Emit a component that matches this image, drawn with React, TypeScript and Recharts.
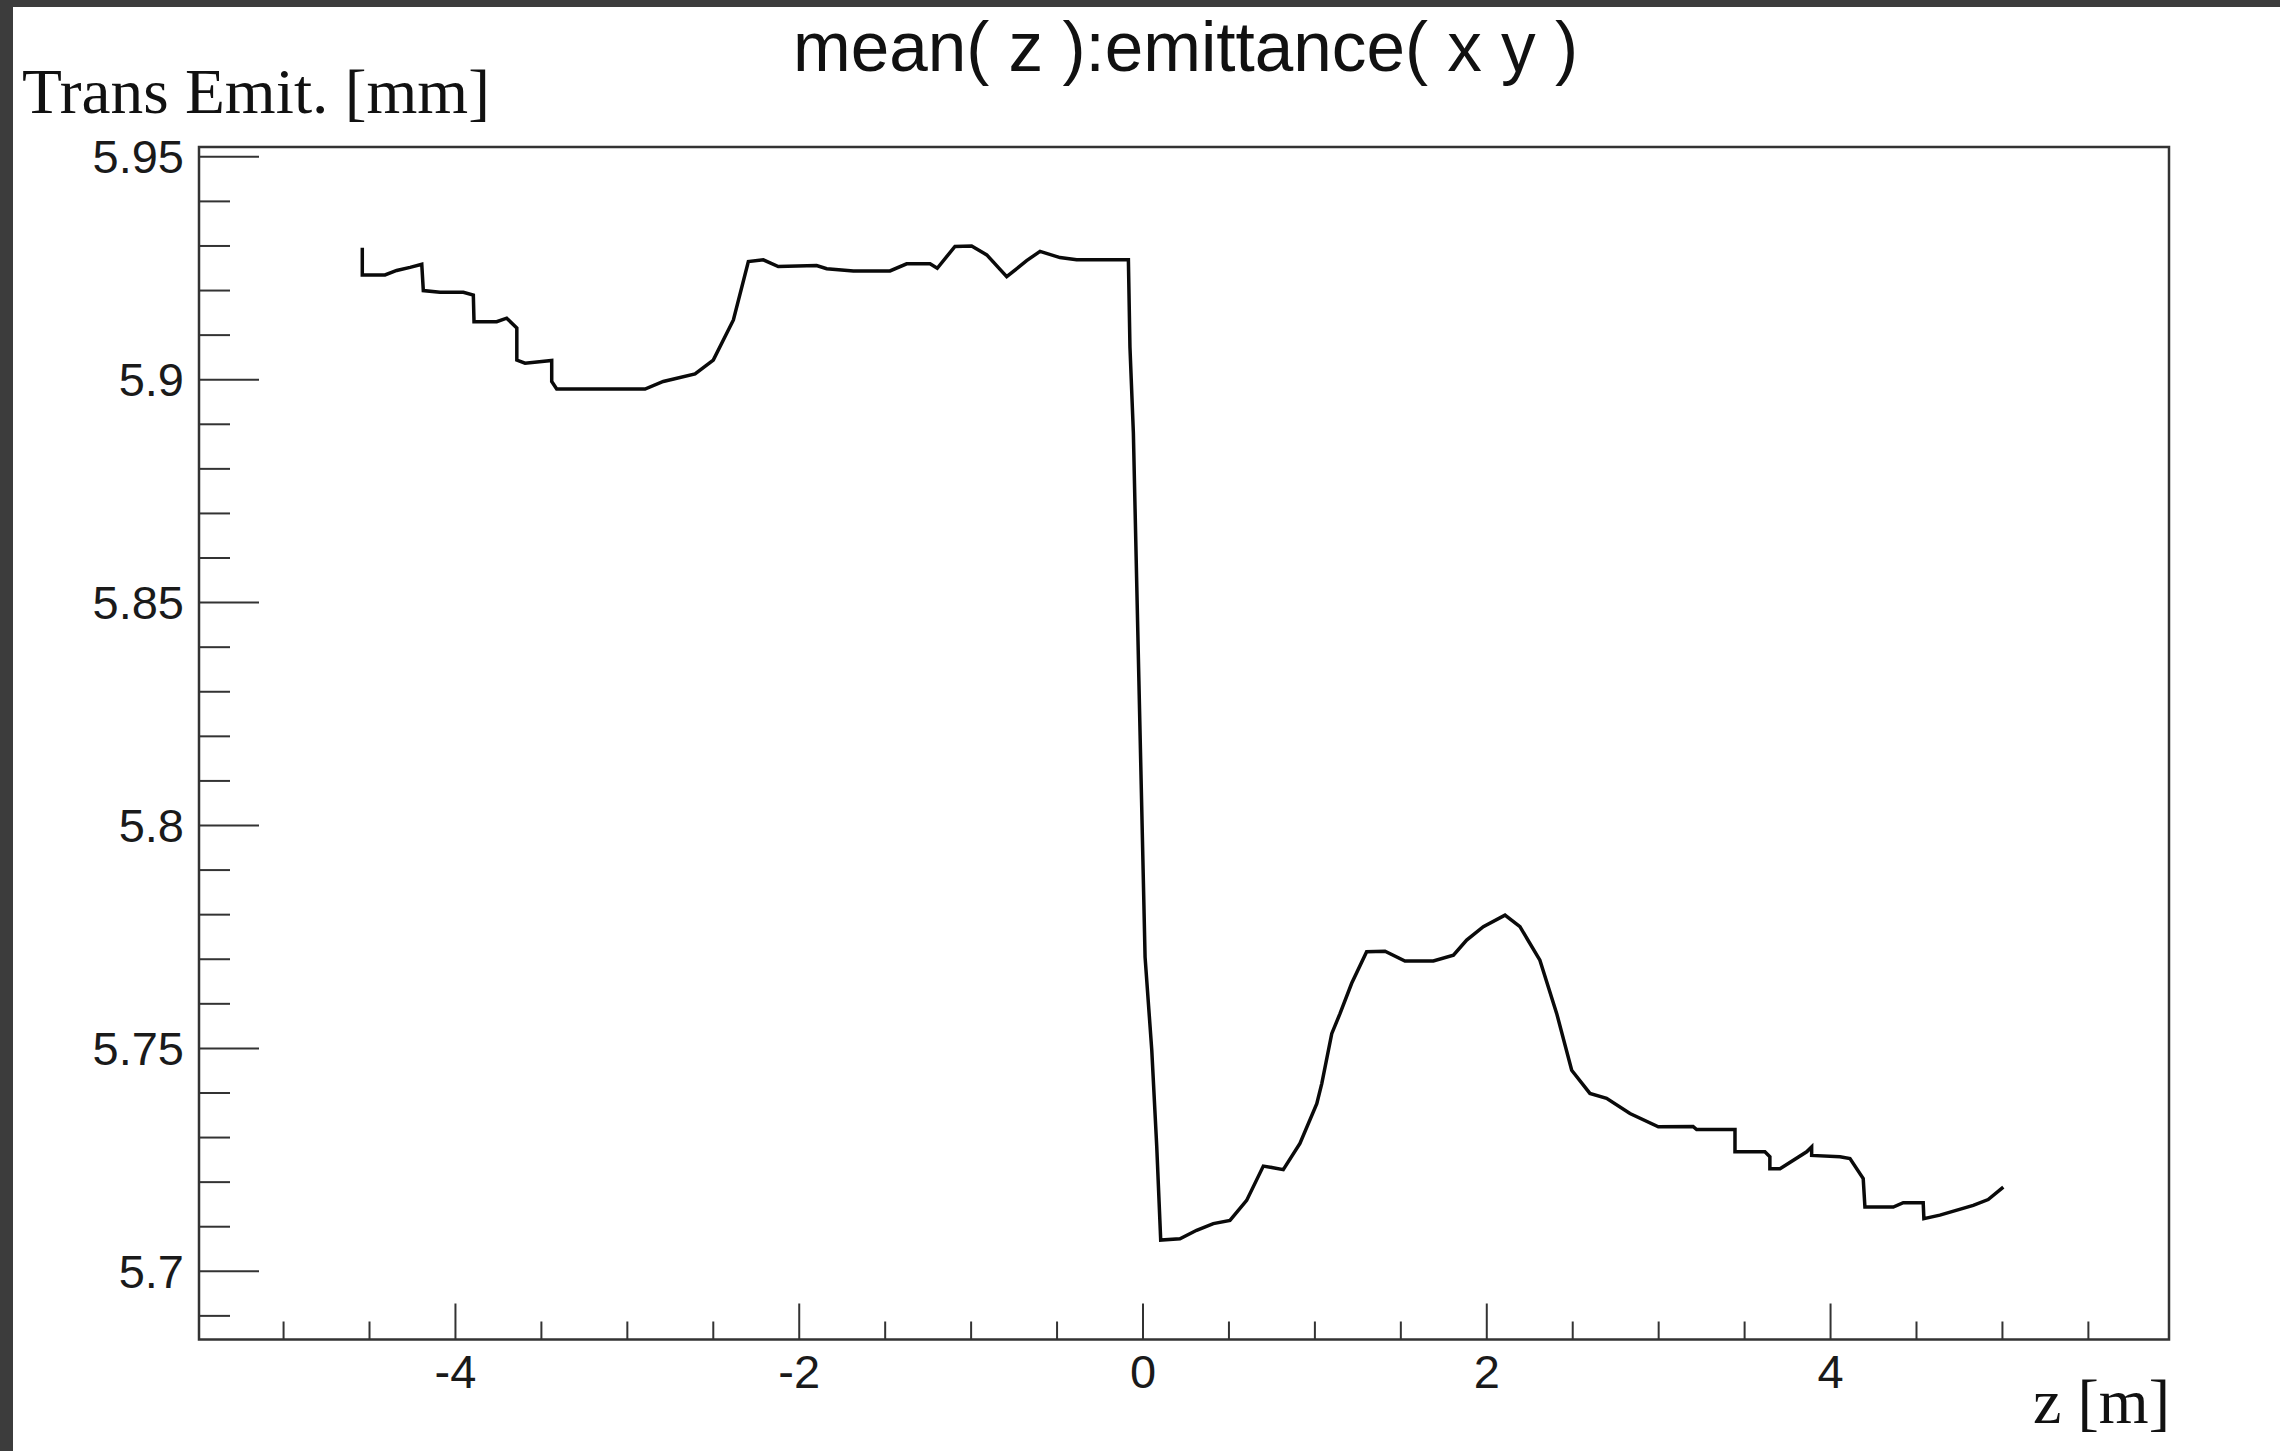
import React from 'react';
import { LineChart, Line, XAxis, YAxis, ReferenceArea } from 'recharts';

// mean(z) vs transverse emittance
const zValues = [
  -4.542, -4.542, -4.41, -4.342, -4.264, -4.196, -4.187, -4.09, -3.954, -3.896,
  -3.892, -3.76, -3.702, -3.643, -3.643, -3.595, -3.44, -3.44, -3.411, -2.897,
  -2.791, -2.606, -2.5, -2.383, -2.296, -2.209, -2.122, -1.899, -1.84, -1.685,
  -1.472, -1.375, -1.239, -1.197, -1.094, -0.997, -0.909, -0.793, -0.677, -0.599,
  -0.483, -0.386, -0.085, -0.076, -0.056, 0.002, 0.012, 0.051, 0.08, 0.103,
  0.215, 0.312, 0.409, 0.506, 0.603, 0.7, 0.749, 0.816, 0.913, 1.011,
  1.04, 1.098, 1.146, 1.214, 1.301, 1.408, 1.524, 1.689, 1.806, 1.883,
  1.98, 2.106, 2.193, 2.309, 2.407, 2.494, 2.6, 2.697, 2.833, 2.998,
  3.2, 3.221, 3.444, 3.444, 3.618, 3.647, 3.647, 3.706, 3.861, 3.89,
  3.89, 4.055, 4.113, 4.19, 4.2, 4.365, 4.423, 4.539, 4.543, 4.636,
  4.83, 4.917, 5.005,
];

const emitValues = [
  5.9296, 5.9235, 5.9235, 5.9245, 5.9252, 5.9259, 5.92, 5.9196, 5.9196, 5.919,
  5.913, 5.913, 5.9138, 5.9116, 5.9044, 5.9037, 5.9043, 5.8996, 5.8979, 5.8979,
  5.8996, 5.9013, 5.9044, 5.9134, 5.9265, 5.9269, 5.9254, 5.9256, 5.9249, 5.9244,
  5.9244, 5.926, 5.926, 5.925, 5.9299, 5.93, 5.928, 5.9231, 5.9267, 5.9288,
  5.9274, 5.9269, 5.9269, 5.9074, 5.888, 5.7877, 5.7705, 5.7496, 5.7279, 5.707,
  5.7073, 5.7092, 5.7107, 5.7114, 5.7159, 5.7236, 5.7233, 5.7228, 5.7287, 5.7376,
  5.7421, 5.7533, 5.7578, 5.7646, 5.7717, 5.7718, 5.7696, 5.7696, 5.7709, 5.7743,
  5.7773, 5.7799, 5.7773, 5.7698, 5.7578, 5.7451, 5.7399, 5.7388, 5.7354, 5.7324,
  5.7325, 5.7318, 5.7318, 5.7268, 5.7268, 5.7257, 5.723, 5.723, 5.7268, 5.7279,
  5.726, 5.7257, 5.7253, 5.7208, 5.7144, 5.7144, 5.7154, 5.7154, 5.7118, 5.7126,
  5.7148, 5.7161, 5.7189,
];

const xTicks = [
  -5, -4.5, -4, -3.5, -3, -2.5, -2, -1.5, -1, -0.5, 0, 0.5, 1, 1.5, 2, 2.5, 3, 3.5, 4, 4.5, 5, 5.5,
];
const xMajorTicks = [-4, -2, 0, 2, 4];

const yTicks = [
  5.69, 5.7, 5.71, 5.72, 5.73, 5.74, 5.75, 5.76, 5.77, 5.78, 5.79, 5.8, 5.81, 5.82,
  5.83, 5.84, 5.85, 5.86, 5.87, 5.88, 5.89, 5.9, 5.91, 5.92, 5.93, 5.94, 5.95,
];
const yMajorTicks = [5.7, 5.75, 5.8, 5.85, 5.9, 5.95];

const X_DOMAIN: [number, number] = [-5.492, 5.969];
const Y_DOMAIN: [number, number] = [5.6847, 5.9522];

const data = zValues.map((z, i) => ({ z, e: emitValues[i] }));

const W = 2280;
const H = 1451;
const Y_AXIS_W = 100;
const X_AXIS_H = 60;
const Y_TICK_GAP = 15;
const SANS = '"Liberation Sans", Arial, Helvetica, sans-serif';
const SERIF = '"Liberation Serif", "Times New Roman", serif';
const INK = '#1a1a1a';

const isIn = (list: number[], v: number) => list.some((m) => Math.abs(m - v) < 1e-6);

const YTick = (props: any) => {
  const { x, y, payload } = props;
  const v = payload.value;
  const major = isIn(yMajorTicks, v);
  const x0 = x + Y_TICK_GAP;
  return (
    <g>
      <line x1={x0} x2={x0 + (major ? 60 : 31)} y1={y} y2={y} stroke="#333" strokeWidth={2} />
      {major && (
        <text x={x} y={y} textAnchor="end" dominantBaseline="central" fontFamily={SANS} fontSize={47} fill={INK}>
          {String(Number(v.toFixed(2)))}
        </text>
      )}
    </g>
  );
};

const XTick = (props: any) => {
  const { x, y, payload } = props;
  const v = payload.value;
  const major = isIn(xMajorTicks, v);
  return (
    <g>
      <line x1={x} x2={x} y1={y} y2={y - (major ? 36 : 18)} stroke="#333" strokeWidth={2} />
      {major && (
        <text x={x} y={y + 32} textAnchor="middle" dominantBaseline="central" fontFamily={SANS} fontSize={47} fill={INK}>
          {String(v)}
        </text>
      )}
    </g>
  );
};

export default function App() {
  return (
    <div style={{ position: 'absolute', left: 0, top: 0, width: W, height: H, background: '#3c3c3c', overflow: 'hidden' }}>
      <div style={{ position: 'absolute', left: 13, top: 7, right: 0, bottom: 0, background: '#fff' }} />
      <div style={{ position: 'absolute', left: 0, top: 0 }}>
        <LineChart
          width={W}
          height={H}
          data={data}
          margin={{ top: 147, right: 111, bottom: 111.5 - X_AXIS_H, left: 199 - Y_AXIS_W }}
        >
          <XAxis
            dataKey="z"
            type="number"
            domain={X_DOMAIN}
            allowDataOverflow
            ticks={xTicks}
            interval={0}
            height={X_AXIS_H}
            tickSize={0}
            tickMargin={0}
            tickLine={false}
            axisLine={false}
            tick={<XTick />}
          />
          <YAxis
            type="number"
            domain={Y_DOMAIN}
            allowDataOverflow
            ticks={yTicks}
            interval={0}
            width={Y_AXIS_W}
            tickSize={0}
            tickMargin={Y_TICK_GAP}
            tickLine={false}
            axisLine={false}
            tick={<YTick />}
          />
          <ReferenceArea
            x1={X_DOMAIN[0]}
            x2={X_DOMAIN[1]}
            y1={Y_DOMAIN[0]}
            y2={Y_DOMAIN[1]}
            fill="none"
            fillOpacity={0}
            stroke="#333"
            strokeWidth={2.5}
            ifOverflow="visible"
          />
          <Line
            type="linear"
            dataKey="e"
            stroke="#0a0a0a"
            strokeWidth={3.5}
            dot={false}
            activeDot={false}
            isAnimationActive={false}
          />
        </LineChart>
      </div>
      <svg width={W} height={H} style={{ position: 'absolute', left: 0, top: 0, pointerEvents: 'none' }}>
        <text x={1185.5} y={71} textAnchor="middle" fontFamily={SANS} fontSize={71} fill="#111" textLength={785} lengthAdjust="spacingAndGlyphs">
          mean( z ):emittance( x y )
        </text>
        <text x={22} y={113} fontFamily={SERIF} fontSize={64} fill="#111" textLength={468} lengthAdjust="spacingAndGlyphs">
          Trans Emit. [mm]
        </text>
        <text x={2033} y={1423} fontFamily={SERIF} fontSize={64} fill="#111" textLength={137} lengthAdjust="spacingAndGlyphs">
          z [m]
        </text>
      </svg>
    </div>
  );
}
